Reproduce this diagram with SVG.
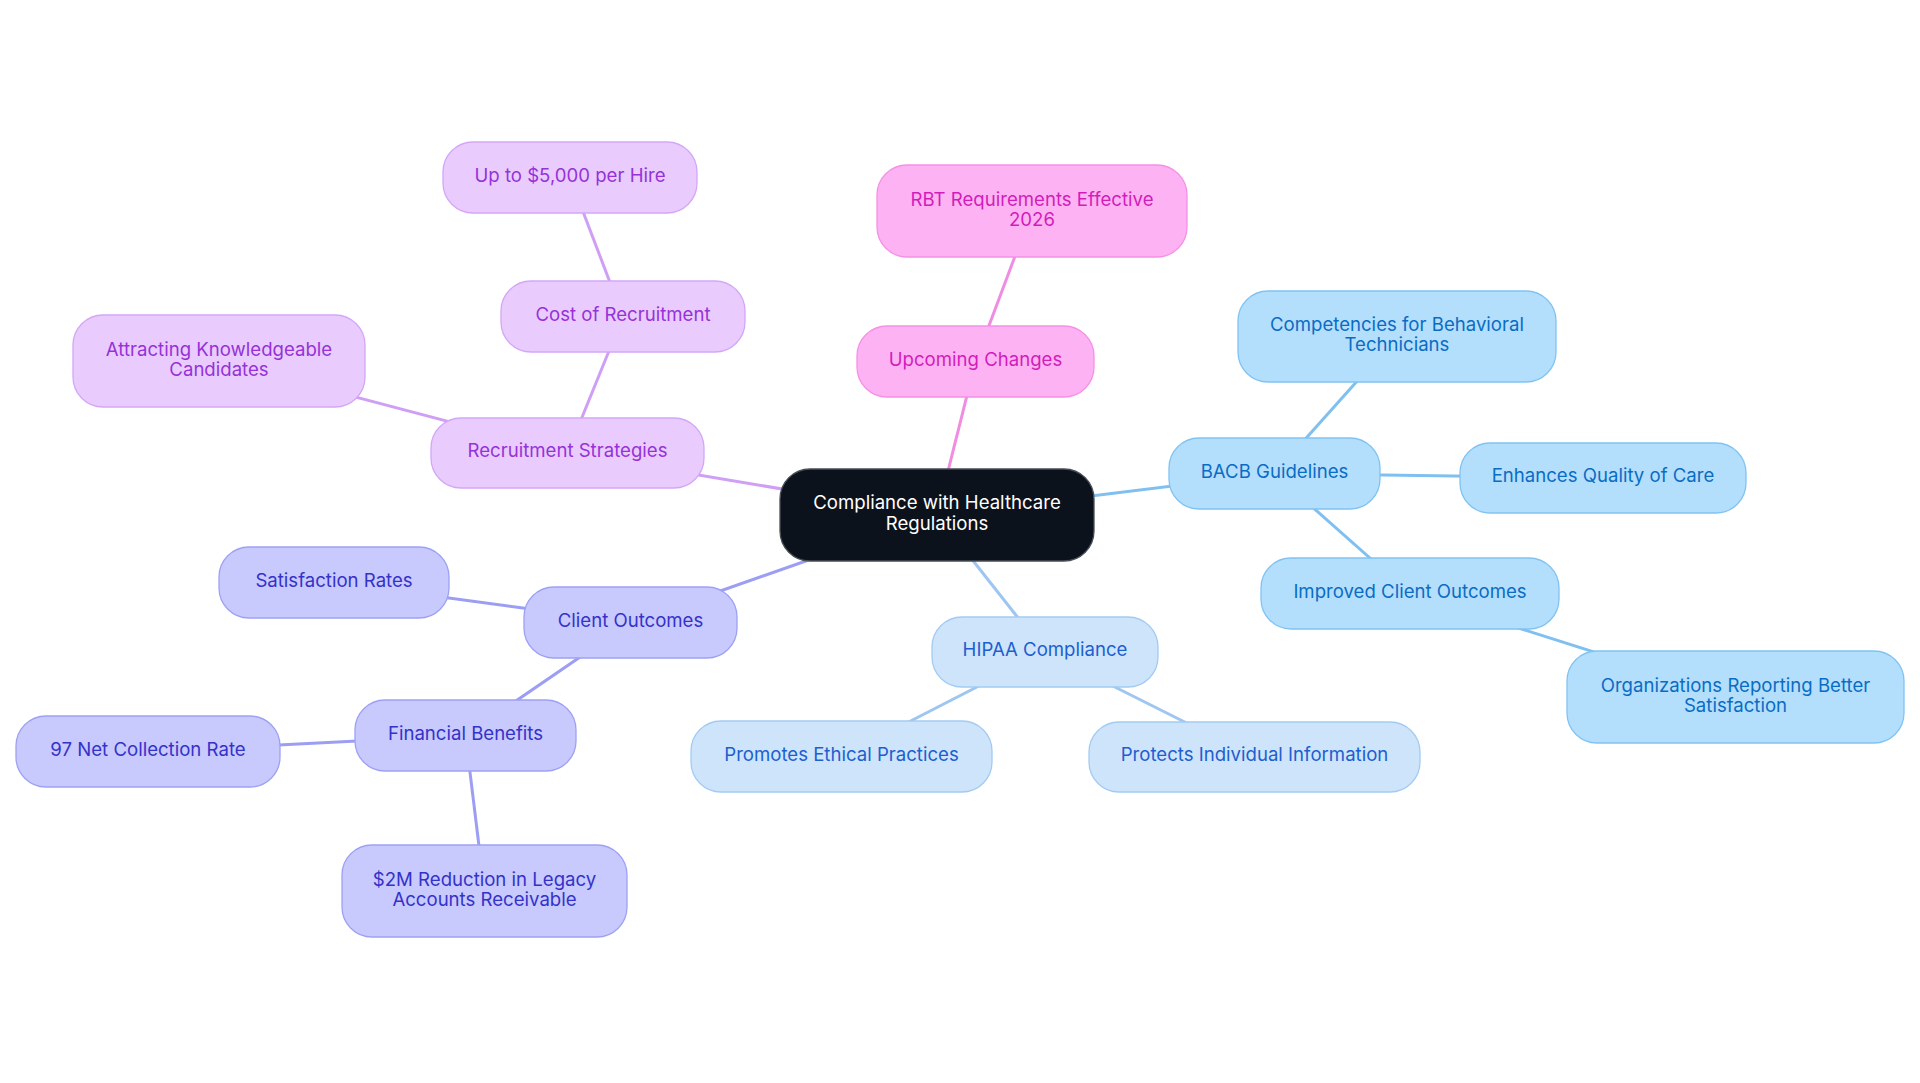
<svg xmlns="http://www.w3.org/2000/svg" width="1920" height="1083" viewBox="0 0 1920 1083">
<style>
text{font-family:Inter,"Noto Sans","Liberation Sans",sans-serif;font-size:18.6px;text-anchor:middle}
.n rect{stroke-width:1.3}
.e line{stroke-width:3;fill:none}
.pu rect{fill:#e9ccfd;stroke:#d3a6f7}.pu text{fill:#9632d8}
.pk rect{fill:#fdb3f3;stroke:#f590e6}.pk text{fill:#d21dbb}
.bl rect{fill:#b3dffc;stroke:#80c3f2}.bl text{fill:#0b6cc4}
.hp rect{fill:#cde4fb;stroke:#a3cbf2}.hp text{fill:#1d5fcf}
.ig rect{fill:#c8c9fd;stroke:#9ea1f3}.ig text{fill:#3432c9}
.ct rect{fill:#0c121b;stroke:#4a4f57}.ct text{fill:#ffffff}
.epu{stroke:#cf9ff5}.epk{stroke:#f08de0}.ebl{stroke:#80c0f0}.ehp{stroke:#9ec6f0}.eig{stroke:#9b9ef3}
</style>
<rect width="1920" height="1083" fill="#ffffff"/>
<g id="connectors" class="e">
<line class="epk" x1="937" y1="515" x2="975.5" y2="361.5"/>
<line class="epk" x1="975.5" y1="361.5" x2="1032" y2="211"/>
<line class="epu" x1="937" y1="515" x2="567.5" y2="453"/>
<line class="epu" x1="567.5" y1="453" x2="623" y2="316.5"/>
<line class="epu" x1="623" y1="316.5" x2="570" y2="177.5"/>
<line class="epu" x1="567.5" y1="453" x2="219" y2="361"/>
<line class="eig" x1="937" y1="515" x2="630.5" y2="622.5"/>
<line class="eig" x1="630.5" y1="622.5" x2="334" y2="582.5"/>
<line class="eig" x1="630.5" y1="622.5" x2="465.5" y2="735.5"/>
<line class="eig" x1="465.5" y1="735.5" x2="148" y2="751.5"/>
<line class="eig" x1="465.5" y1="735.5" x2="484.5" y2="891"/>
<line class="ehp" x1="937" y1="515" x2="1045" y2="652"/>
<line class="ehp" x1="1045" y1="652" x2="841.5" y2="756.5"/>
<line class="ehp" x1="1045" y1="652" x2="1254.5" y2="757"/>
<line class="ebl" x1="937" y1="515" x2="1274.5" y2="473.5"/>
<line class="ebl" x1="1274.5" y1="473.5" x2="1397" y2="336.5"/>
<line class="ebl" x1="1274.5" y1="473.5" x2="1603" y2="478"/>
<line class="ebl" x1="1274.5" y1="473.5" x2="1410" y2="593.5"/>
<line class="ebl" x1="1410" y1="593.5" x2="1735.5" y2="697"/>
</g>
<g id="central" class="n ct"><rect x="780" y="469" width="314" height="92" rx="30"/><text x="937" y="509">Compliance with Healthcare</text><text x="937" y="530">Regulations</text></g>
<g id="upcoming" class="n pk"><rect x="857" y="326" width="237" height="71" rx="30"/><text x="975.5" y="366">Upcoming Changes</text></g>
<g id="rbt" class="n pk"><rect x="877" y="165" width="310" height="92" rx="30"/><text x="1032" y="206">RBT Requirements Effective</text><text x="1032" y="226">2026</text></g>
<g id="recruitment" class="n pu"><rect x="431" y="418" width="273" height="70" rx="30"/><text x="567.5" y="457">Recruitment Strategies</text></g>
<g id="cost" class="n pu"><rect x="501" y="281" width="244" height="71" rx="30"/><text x="623" y="321">Cost of Recruitment</text></g>
<g id="upto" class="n pu"><rect x="443" y="142" width="254" height="71" rx="30"/><text x="570" y="182">Up to $5,000 per Hire</text></g>
<g id="attracting" class="n pu"><rect x="73" y="315" width="292" height="92" rx="30"/><text x="219" y="356">Attracting Knowledgeable</text><text x="219" y="376">Candidates</text></g>
<g id="client" class="n ig"><rect x="524" y="587" width="213" height="71" rx="30"/><text x="630.5" y="627">Client Outcomes</text></g>
<g id="satisfaction" class="n ig"><rect x="219" y="547" width="230" height="71" rx="30"/><text x="334" y="587">Satisfaction Rates</text></g>
<g id="financial" class="n ig"><rect x="355" y="700" width="221" height="71" rx="30"/><text x="465.5" y="740">Financial Benefits</text></g>
<g id="net" class="n ig"><rect x="16" y="716" width="264" height="71" rx="30"/><text x="148" y="756">97 Net Collection Rate</text></g>
<g id="reduction" class="n ig"><rect x="342" y="845" width="285" height="92" rx="30"/><text x="484.5" y="886">$2M Reduction in Legacy</text><text x="484.5" y="906">Accounts Receivable</text></g>
<g id="hipaa" class="n hp"><rect x="932" y="617" width="226" height="70" rx="30"/><text x="1045" y="656">HIPAA Compliance</text></g>
<g id="promotes" class="n hp"><rect x="691" y="721" width="301" height="71" rx="30"/><text x="841.5" y="761">Promotes Ethical Practices</text></g>
<g id="protects" class="n hp"><rect x="1089" y="722" width="331" height="70" rx="30"/><text x="1254.5" y="761">Protects Individual Information</text></g>
<g id="bacb" class="n bl"><rect x="1169" y="438" width="211" height="71" rx="30"/><text x="1274.5" y="478">BACB Guidelines</text></g>
<g id="competencies" class="n bl"><rect x="1238" y="291" width="318" height="91" rx="30"/><text x="1397" y="331">Competencies for Behavioral</text><text x="1397" y="351">Technicians</text></g>
<g id="enhances" class="n bl"><rect x="1460" y="443" width="286" height="70" rx="30"/><text x="1603" y="482">Enhances Quality of Care</text></g>
<g id="improved" class="n bl"><rect x="1261" y="558" width="298" height="71" rx="30"/><text x="1410" y="598">Improved Client Outcomes</text></g>
<g id="organizations" class="n bl"><rect x="1567" y="651" width="337" height="92" rx="30"/><text x="1735.5" y="692">Organizations Reporting Better</text><text x="1735.5" y="712">Satisfaction</text></g>
</svg>
